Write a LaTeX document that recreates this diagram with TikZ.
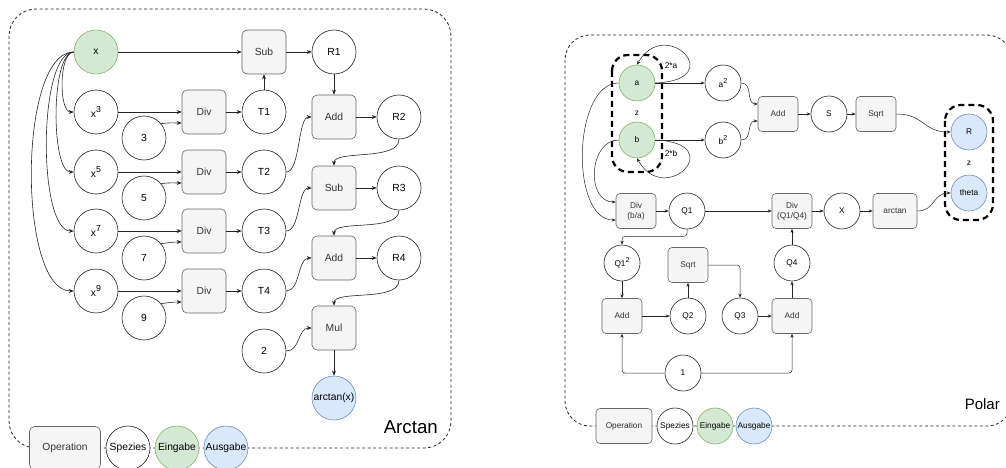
\documentclass[tikz,border=0pt]{standalone}
\usepackage{fontspec}
\usepackage{graphicx}
\setmainfont{Liberation Sans}
\usetikzlibrary{arrows.meta}
\definecolor{opFill}{HTML}{F5F5F5}
\definecolor{opLine}{HTML}{666666}
\definecolor{opText}{HTML}{333333}
\definecolor{inFill}{HTML}{D5E8D4}
\definecolor{inLine}{HTML}{82B366}
\definecolor{outFill}{HTML}{DAE8FC}
\definecolor{outLine}{HTML}{6C8EBF}
% exponent set a little smaller and raised
\newcommand{\pw}[1]{\raisebox{0.45em}{\scalebox{0.85}{#1}}}
\tikzset{
  % large panel (Arctan)
  opbox/.style={draw=opLine, fill=opFill, rounded corners=5pt, minimum width=44pt, minimum height=44pt,
    inner sep=0pt, text=opText, font=\fontsize{10.3}{12}\selectfont, line width=0.6pt},
  spec/.style={circle, draw=black!85, fill=white, minimum size=44pt, inner sep=0pt,
    font=\fontsize{10.3}{12}\selectfont, line width=0.6pt},
  inspec/.style={spec, draw=inLine, fill=inFill},
  outspec/.style={spec, draw=outLine, fill=outFill},
  % small panel (Polar)
  sopbox/.style={opbox, minimum width=40pt, minimum height=35pt, rounded corners=4pt,
    font=\fontsize{8.3}{10}\selectfont, align=center},
  sspec/.style={spec, minimum size=36pt, font=\fontsize{8.3}{10}\selectfont},
  sinspec/.style={sspec, draw=inLine, fill=inFill},
  soutspec/.style={sspec, draw=outLine, fill=outFill},
  arr/.style={-{Stealth[length=5pt,width=4pt]}, draw=black!85, line width=0.6pt},
  sarr/.style={-{Stealth[length=4pt,width=3.2pt]}, draw=black!85, line width=0.5pt},
  frame/.style={draw=black!85, dash pattern=on 3pt off 2.5pt, line width=0.8pt},
  group/.style={draw=black, dash pattern=on 6pt off 4pt, line width=2.2pt, rounded corners=16pt},
  lbl/.style={font=\fontsize{8.3}{10}\selectfont, inner sep=1pt},
}
\begin{document}
\begin{tikzpicture}[x=1pt, y=-1pt]
\useasboundingbox (0,0) rectangle (1006,468);

% ---------------- Arctan ----------------
\draw[frame, rounded corners=27pt] (9,9) rectangle (451,448);

\node[inspec] (x) at (96,52) {x};
\node[spec] (x3) at (96,112) {x\pw{3}};
\node[spec] (x5) at (96,172) {x\pw{5}};
\node[spec] (x7) at (96,231) {x\pw{7}};
\node[spec] (x9) at (96,291) {x\pw{9}};
\node[spec] (c3) at (144,138) {3};
\node[spec] (c5) at (144,198) {5};
\node[spec] (c7) at (144,258) {7};
\node[spec] (c9) at (144,318) {9};
\node[opbox] (div1) at (204,112) {Div};
\node[opbox] (div2) at (204,172) {Div};
\node[opbox] (div3) at (204,231) {Div};
\node[opbox] (div4) at (204,291) {Div};
\node[spec] (t1) at (264,112) {T1};
\node[spec] (t2) at (264,172) {T2};
\node[spec] (t3) at (264,231) {T3};
\node[spec] (t4) at (264,291) {T4};
\node[opbox] (sub1) at (264,52) {Sub};
\node[spec] (r1) at (334,52) {R1};
\node[opbox] (add1) at (334,117) {Add};
\node[spec] (r2) at (399,117) {R2};
\node[opbox] (sub2) at (334,188) {Sub};
\node[spec] (r3) at (399,188) {R3};
\node[opbox] (add2) at (334,258) {Add};
\node[spec] (r4) at (399,258) {R4};
\node[opbox] (mul) at (334,328) {Mul};
\node[spec] (two) at (264,351) {2};
\node[outspec] (atx) at (334,398) {arctan(x)};

\node[anchor=east, font=\fontsize{18.7}{22}\selectfont, inner sep=0pt] (lblA) at (438,427) {Arctan};

\draw[arr] (x.west) .. controls +(-15,0) and +(-15,0) .. (x3.west);
\draw[arr] (x.west) .. controls +(-23,0) and +(-23,0) .. (x5.west);
\draw[arr] (x.west) .. controls +(-36,0) and +(-36,0) .. (x7.west);
\draw[arr] (x.west) .. controls +(-56,0) and +(-56,0) .. (x9.west);
\draw[arr] (x) -- (sub1);
\foreach \a/\b in {x3/div1, x5/div2, x7/div3, x9/div4, div1/t1, div2/t2, div3/t3, div4/t4,
                  t1/sub1, sub1/r1, r1/add1, add1/r2, sub2/r3, add2/r4, mul/atx}
  \draw[arr] (\a) -- (\b);
\foreach \c/\d in {c3/div1, c5/div2, c7/div3, c9/div4}
  \draw[arr] (\c.40) to[out=8, in=180] ([yshift=-11pt]\d.west);
\foreach \a/\b in {t2/add1, t3/sub2, t4/add2, two/mul}
  \draw[arr] (\a.east) .. controls +(14,0) and +(-14,0) .. (\b.west);
\foreach \a/\b in {r2/sub2, r3/add2, r4/mul}
  \draw[arr] (\a.south) .. controls +(0,22) and +(0,-16) .. (\b.north);

% legend
\node[opbox, minimum width=71pt, minimum height=43pt] (legOpA) at (65,448) {Operation};
\node[spec] (legSpA) at (128,448) {Spezies};
\node[inspec] (legInA) at (177,448) {Eingabe};
\node[outspec] (legOutA) at (226,448) {Ausgabe};

% ---------------- Polar ----------------
\draw[frame, rounded corners=25pt] (565,35) rectangle (1012,426);

\draw[group] (612,55) rectangle (662,172);
\draw[group] (945,105) rectangle (993,220);

\node[sinspec] (a) at (637,83) {a};
\node[sinspec] (b) at (637,140) {b};
\node[lbl] (za) at (637,113) {z};
\node[lbl] (la) at (671,66) {2*a};
\node[lbl] (lb) at (671,154) {2*b};
\node[sspec] (a2) at (723,83) {a\pw{2}};
\node[sspec] (b2) at (723,140) {b\pw{2}};
\node[sopbox] (addP) at (778,114) {Add};
\node[sspec] (s) at (829,114) {S};
\node[sopbox] (sqrtP) at (876,114) {Sqrt};
\node[soutspec] (R) at (969,132) {R};
\node[soutspec] (theta) at (969,193) {theta};
\node[lbl] (zr) at (969,163) {z};

\node[sopbox] (divba) at (636,211) {Div\\(b/a)};
\node[sspec] (q1) at (687,211) {Q1};
\node[sopbox] (divq) at (792,211) {Div\\(Q1/Q4)};
\node[sspec] (X) at (842,211) {X};
\node[sopbox, minimum width=44pt] (atan) at (895,211) {arctan};

\node[sspec] (q1sq) at (622,263) {Q1\pw{2}};
\node[sopbox] (sqrtQ) at (688,265) {Sqrt};
\node[sspec] (q4) at (792,263) {Q4};
\node[sopbox] (addL) at (622,316) {Add};
\node[sspec] (q2) at (688,316) {Q2};
\node[sspec] (q3) at (740,316) {Q3};
\node[sopbox] (addR) at (792,316) {Add};
\node[sspec] (one) at (683,373) {1};

\node[anchor=east, font=\fontsize{15}{18}\selectfont, inner sep=0pt] (lblP) at (1000,404) {Polar};

\draw[sarr] (a) -- (a2);
\draw[sarr] (b) -- (b2);
\draw[sarr] (a.east) .. controls (730,80) and (665,15) .. (a.north);
\draw[sarr] (b.east) .. controls (730,143) and (665,208) .. (b.south);
\draw[sarr] (a2.east) .. controls +(12,0) and +(-12,0) .. ([yshift=10pt]addP.west);
\draw[sarr] (b2.east) .. controls +(12,0) and +(-12,0) .. ([yshift=-7pt]addP.west);
\draw[sarr] (addP) -- (s);
\draw[sarr] (s) -- (sqrtP);
\draw[sarr] (sqrtP.east) .. controls +(28,0) and +(-28,0) .. (R.west);
\draw[sarr] (a.west) .. controls +(-46,0) and +(-46,0) .. ([yshift=-9pt]divba.west);
\draw[sarr] (b.west) .. controls +(-30,0) and +(-30,0) .. ([yshift=9pt]divba.west);
\draw[sarr] (divba) -- (q1);
\draw[sarr] (q1) -- (divq);
\draw[sarr] (divq) -- (X);
\draw[sarr] (X) -- (atan);
\draw[sarr] (atan.east) .. controls +(18,0) and +(-18,0) .. (theta.west);
\draw[sarr, rounded corners=3pt] (q1.south) -- ++(0,7) -| (q1sq.north);
\draw[sarr] (q1sq) -- (addL);
\draw[sarr] (addL) -- (q2);
\draw[sarr] (q2) -- (sqrtQ);
\draw[sarr, rounded corners=3pt] (sqrtQ.east) -| (q3.north);
\draw[sarr] (q3) -- (addR);
\draw[sarr] (addR) -- (q4);
\draw[sarr] (q4) -- (divq);
\draw[sarr, rounded corners=3pt] (one.west) -| (addL.south);
\draw[sarr, rounded corners=3pt] (one.east) -| (addR.south);

% legend
\node[sopbox, minimum width=56pt] (legOpP) at (624,426) {Operation};
\node[sspec] (legSpP) at (675,426) {Spezies};
\node[sinspec] (legInP) at (715,426) {Eingabe};
\node[soutspec] (legOutP) at (754,426) {Ausgabe};
\end{tikzpicture}
\end{document}
